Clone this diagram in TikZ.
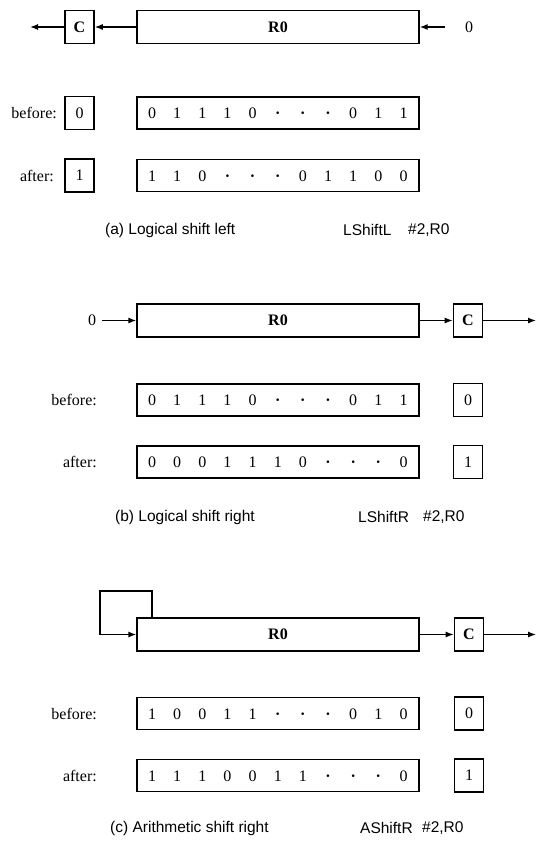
\documentclass[tikz,border=0pt]{standalone}
\usepackage{fontspec}
\setmainfont{Liberation Serif}
\newfontfamily\capfont{Liberation Sans}
\usetikzlibrary{arrows.meta}
\newcommand\dd{\textbf{\textperiodcentered}}
\tikzset{
  reg/.style={draw, line width=1.3pt, minimum width=282pt, minimum height=33pt, inner sep=0pt, font=\fontsize{16}{16}\selectfont\bfseries},
  valbox/.style={draw, line width=1.8pt, minimum width=282pt, minimum height=32pt, inner sep=0pt},
  cbox/.style={draw, line width=1.6pt, minimum width=29pt, minimum height=33pt, inner sep=0pt, font=\fontsize{16}{16}\selectfont},
  bitnode/.style={inner sep=0pt, anchor=base, font=\fontsize{16}{16}\selectfont},
  lbl/.style={anchor=east, inner sep=0pt, font=\fontsize{16}{16}\selectfont},
  captxt/.style={anchor=west, inner sep=0pt, font=\capfont\fontsize{15.5}{15.5}\selectfont},
  arr/.style={-{Latex[length=8pt,width=6pt]}, line width=1.3pt},
}
\newcommand\regrow[3]{%
  \node[valbox] (#1) at (278,#2) {};
  \foreach \b [count=\i] in {#3} \node[bitnode] (#1-\i) at ({152+(\i-1)*25.15},#2+5.5) {\b};
}
\begin{document}
\begin{tikzpicture}[x=1pt,y=-1pt]
\fill[white] (0,0) rectangle (539,841);
\useasboundingbox (0,0) rectangle (539,841);

% ---------- (a) ----------
\node[reg] (ra) at (278,27) {R0};
\node[cbox,font=\fontsize{16}{16}\selectfont\bfseries] (ca) at (79.5,27) {C};
\coordinate (outa) at (30,27);
\node[bitnode,anchor=center] (za) at (469,27) {0};
\draw[arr] (ra.west) -- (ca.east);
\draw[arr] (ca.west) -- (outa);
\draw[arr, shorten <=20pt] (za.west) -- (ra.east);

\node[lbl] (bla) at (57,113) {before:};
\node[cbox] (cba) at (79.5,113) {0};
\regrow{va1}{113}{0,1,1,1,0,\dd,\dd,\dd,0,1,1}
\node[lbl] (ala) at (54,175.5) {after:};
\node[cbox] (caa) at (79.5,175.5) {1};
\regrow{va2}{175.5}{1,1,0,\dd,\dd,\dd,0,1,1,0,0}

\node[captxt] (capa) at (105,230) {(a) Logical shift left};
\node[captxt] (insa) at (343,230) {LShiftL};
\node[captxt] (opa) at (408,230) {\#2,R0};

% ---------- (b) ----------
\node[reg] (rb) at (278,320.5) {R0};
\node[cbox,font=\fontsize{16}{16}\selectfont\bfseries] (cb) at (468,320.5) {C};
\node[bitnode,anchor=center] (zb) at (92,320.5) {0};
\coordinate (outb) at (536,320.5);
\draw[arr, shorten <=6pt] (zb.east) -- (rb.west);
\draw[arr] (rb.east) -- (cb.west);
\draw[arr] (cb.east) -- (outb);

\node[lbl] (blb) at (97,400) {before:};
\regrow{vb1}{400}{0,1,1,1,0,\dd,\dd,\dd,0,1,1}
\node[cbox] (cbb) at (468,400) {0};
\node[lbl] (alb) at (97,462) {after:};
\regrow{vb2}{462}{0,0,0,1,1,1,0,\dd,\dd,\dd,0}
\node[cbox] (cab) at (468,462) {1};

\node[captxt] (capb) at (115,517) {(b) Logical shift right};
\node[captxt] (insb) at (358,517) {LShiftR};
\node[captxt] (opb) at (423,517) {\#2,R0};

% ---------- (c) ----------
\node[reg] (rc) at (278,634.5) {R0};
\node[cbox,font=\fontsize{16}{16}\selectfont\bfseries] (cc) at (469,634.5) {C};
\coordinate (outc) at (536,634.5);
\coordinate (lpa) at (152,618);
\coordinate (lpb) at (100,591);
\draw[arr] (lpa) |- (lpb) |- (rc.west);
\draw[arr] (rc.east) -- (cc.west);
\draw[arr] (cc.east) -- (outc);

\node[lbl] (blc) at (97,713.5) {before:};
\regrow{vc1}{713.5}{1,0,0,1,1,\dd,\dd,\dd,0,1,0}
\node[cbox] (cbc) at (469,713.5) {0};
\node[lbl] (alc) at (97,775.5) {after:};
\regrow{vc2}{775.5}{1,1,1,0,0,1,1,\dd,\dd,\dd,0}
\node[cbox] (cac) at (469,775.5) {1};

\node[captxt] (capc) at (110,828) {(c) Arithmetic shift right};
\node[captxt] (insc) at (360,828) {AShiftR};
\node[captxt] (opc) at (422,828) {\#2,R0};
\end{tikzpicture}
\end{document}
